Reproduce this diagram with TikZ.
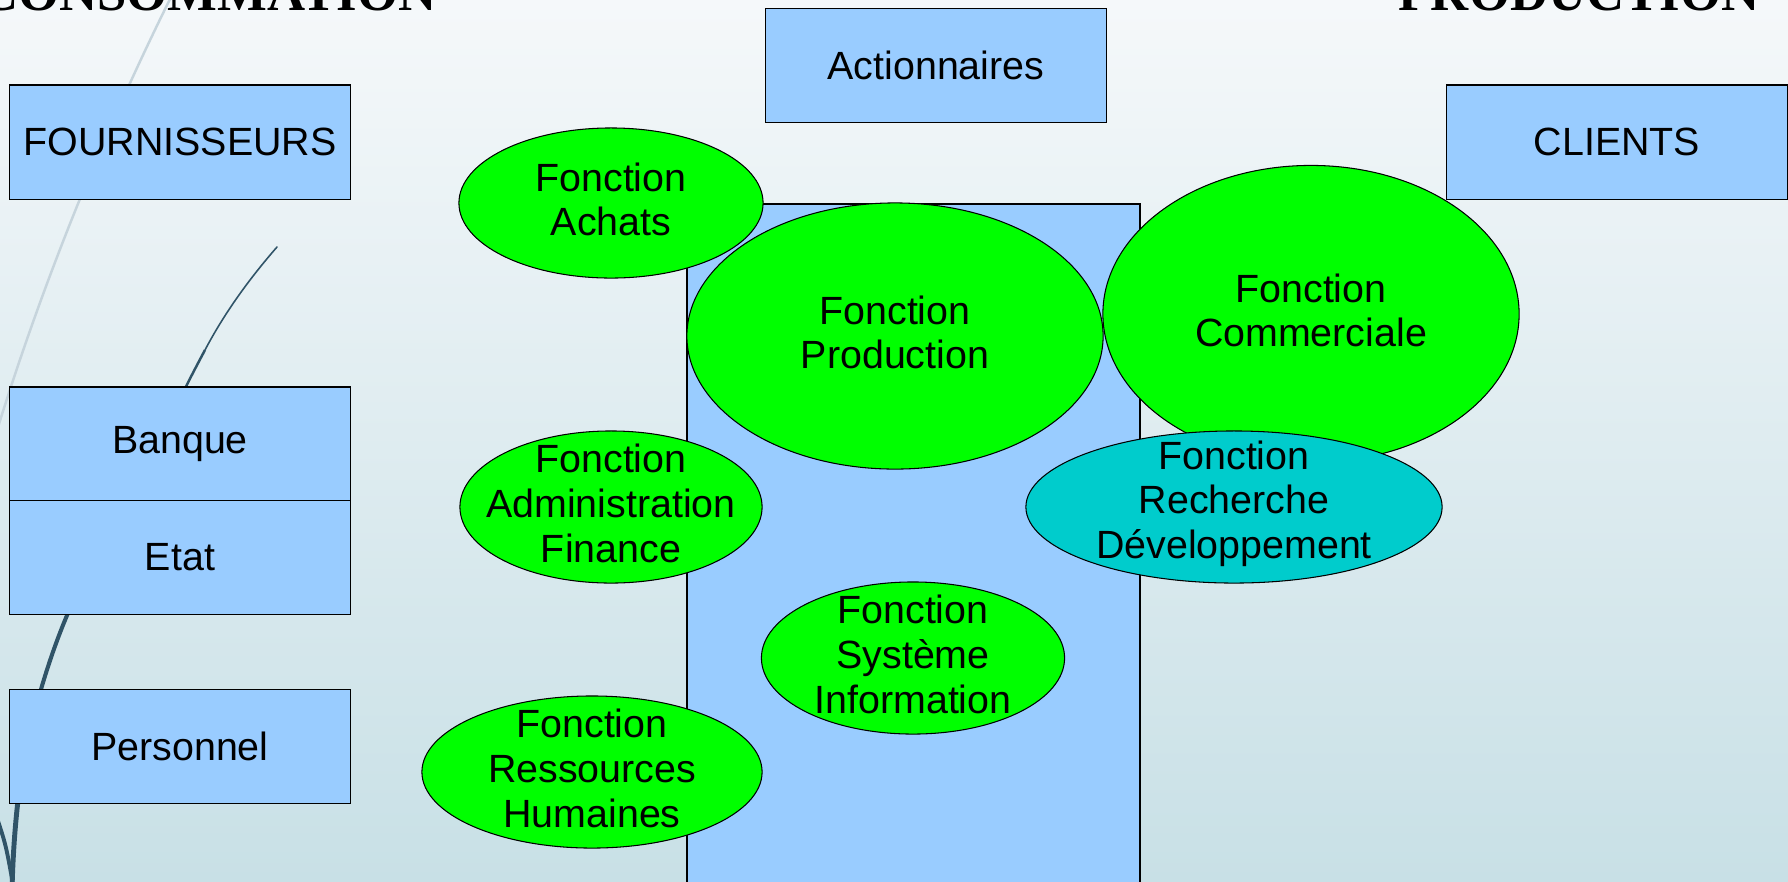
\documentclass[tikz,border=0pt]{standalone}
\usepackage{fontspec}
\setmainfont{Liberation Sans}
\newfontfamily\titrefont{Liberation Serif}
\usepackage{tikz}
\usetikzlibrary{shapes.geometric}

\definecolor{fondhaut}{RGB}{245,248,250}
\definecolor{fondbas}{RGB}{200,224,230}
\definecolor{bleuboite}{RGB}{153,204,255}
\definecolor{vertfct}{RGB}{0,255,0}
\definecolor{cyanfct}{RGB}{0,204,204}
\definecolor{traitclair}{RGB}{198,212,220}
\definecolor{traitfonce}{RGB}{48,84,104}

\tikzset{
    boite/.style={draw=black, fill=bleuboite, line width=0.3pt, inner sep=0pt, outer sep=0pt,
        minimum width=3.4cm, minimum height=1.14cm,
        font=\fontsize{11.2}{12.7}\selectfont},
    fct/.style={ellipse, draw=black, fill=vertfct, line width=0.3pt, inner sep=0pt, outer sep=0pt},
    fcttxt/.style={align=center, yshift=1.0pt, inner sep=0pt,
        font=\fontsize{11.2}{12.7}\selectfont},
    titre/.style={inner sep=0pt, font=\titrefont\bfseries\fontsize{15}{18}\selectfont}
}

\begin{document}
\begin{tikzpicture}[x=0.01cm, y=-0.01cm]
    % Page frame and background
    \clip (0,0) rectangle (1788,881);
    \shade[top color=fondhaut, bottom color=fondbas] (0,0) rectangle (1788,881);

    % Decorative curves on the left
    \draw[traitclair, line width=0.7pt] (172,-5) .. controls (100,140) and (35,300) .. (-15,470);
    \draw[traitfonce, line width=0.45pt, line cap=round] (277,247) .. controls (250,278) and (225,312) .. (205,350);
    \draw[traitfonce, line width=0.7pt] (205,350) .. controls (190,378) and (178,402) .. (160,440);
    \draw[traitfonce, line width=1.15pt] (85,575) .. controls (68,612) and (50,650) .. (30,730);
    \draw[traitfonce, line width=1.4pt] (22,770) .. controls (16,810) and (13,850) .. (12,890);
    \draw[traitfonce, line width=1.1pt] (-4,815) .. controls (6,845) .. (14,890);

    % Headings (cut by the top edge)
    \node[titre, anchor=base east] (conso) at (437,10) {CONSOMMATION};
    \node[titre, anchor=base west] (produc) at (1398,10) {PRODUCTION};

    % Partners
    \node[boite] (fourn) at (180,142) {FOURNISSEURS};
    \node[boite] (action) at (936,65.5) {Actionnaires};
    \node[boite] (clients) at (1617,142) {CLIENTS};
    \node[boite] (banque) at (180,444) {Banque};
    \node[boite] (etat) at (180,557.5) {Etat};
    \node[boite] (perso) at (180,746.5) {Personnel};

    % Company block
    \draw[fill=bleuboite, line width=0.3pt] (687,204) rectangle (1140,900);

    % Functions
    \node[fct, minimum width=3.04cm, minimum height=1.50cm] (achats) at (611,203) {};
    \node[fcttxt] (achatstxt) at (achats) {Fonction\\Achats};
    \node[fct, minimum width=4.16cm, minimum height=2.66cm] (prod) at (895,336) {};
    \node[fcttxt] (prodtxt) at (prod) {Fonction\\Production};
    \node[fct, minimum width=4.16cm, minimum height=2.97cm] (comm) at (1311,314) {};
    \node[fcttxt] (commtxt) at (comm) {Fonction\\Commerciale};
    \node[fct, fill=cyanfct, minimum width=4.16cm, minimum height=1.52cm] (rd) at (1234,507) {};
    \node[fcttxt] (rdtxt) at (rd) {Fonction\\Recherche\\Développement};
    \node[fct, minimum width=3.02cm, minimum height=1.52cm] (admin) at (611,507) {};
    \node[fcttxt] (admintxt) at (admin) {Fonction\\Administration\\Finance};
    \node[fct, minimum width=3.03cm, minimum height=1.52cm] (si) at (913,658) {};
    \node[fcttxt] (sitxt) at (si) {Fonction\\Système\\Information};
    \node[fct, minimum width=3.40cm, minimum height=1.52cm] (rh) at (592,772) {};
    \node[fcttxt] (rhtxt) at (rh) {Fonction\\Ressources\\Humaines};
\end{tikzpicture}
\end{document}
